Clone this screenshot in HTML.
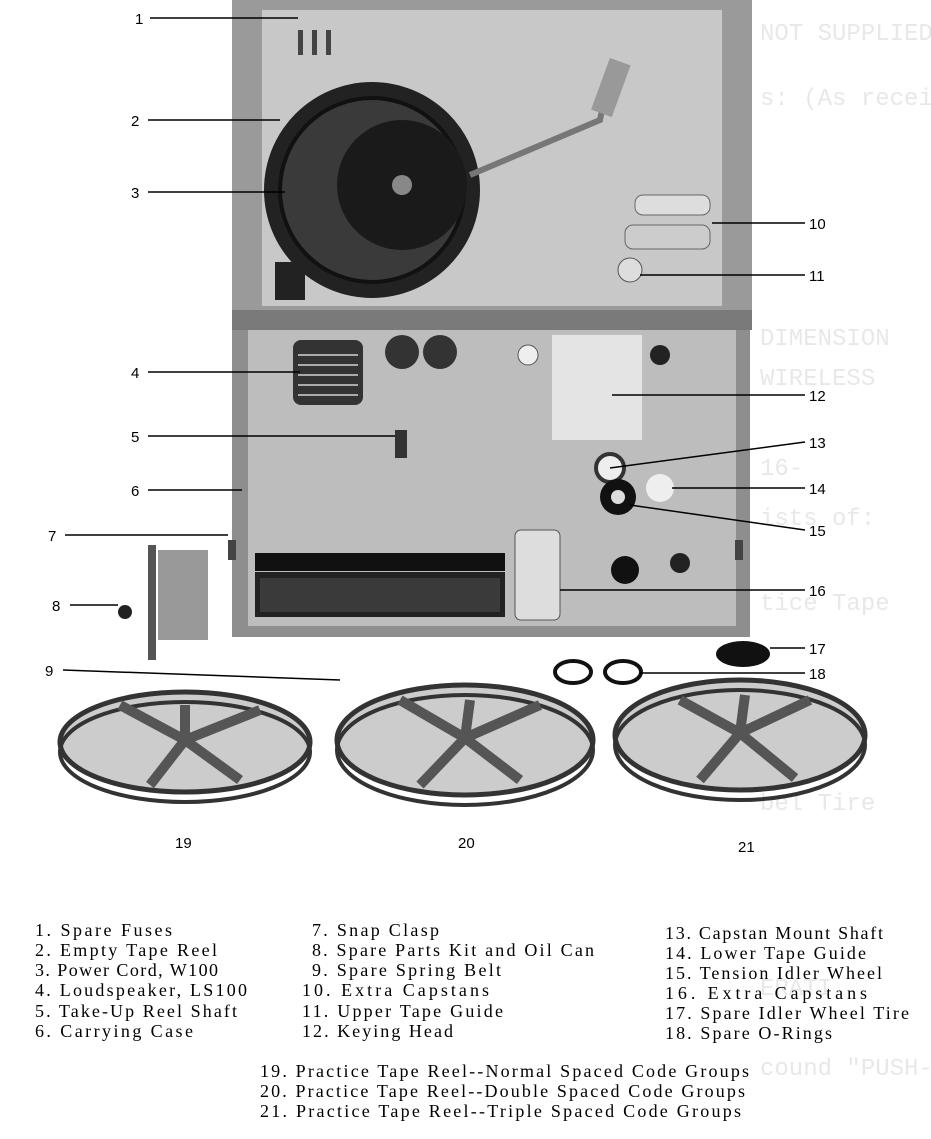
<!DOCTYPE html>
<html><head><meta charset="utf-8"><style>
html,body{margin:0;padding:0;background:#fff;}
svg{display:block}
</style></head><body>
<svg width="931" height="1139" viewBox="0 0 931 1139" xmlns="http://www.w3.org/2000/svg">
<rect width="931" height="1139" fill="#fff"/>
<g font-family="Liberation Mono, monospace" font-size="24" fill="#e8e8e8">
<text x="760" y="40">NOT SUPPLIED</text>
<text x="760" y="105">s: (As received)</text>
<text x="760" y="345">DIMENSION</text>
<text x="760" y="385">WIRELESS</text>
<text x="760" y="475">16-</text>
<text x="760" y="525">ists of:</text>
<text x="760" y="610">tice Tape</text>
<text x="760" y="810">bel Tire</text>
<text x="760" y="995">ERATI</text>
<text x="760" y="1075">cound "PUSH-</text>
</g>
<rect x="232" y="0" width="520" height="318" fill="#9a9a9a"/>
<rect x="262" y="10" width="460" height="296" fill="#c8c8c8"/>
<rect x="232" y="312" width="518" height="325" fill="#8e8e8e"/>
<rect x="248" y="330" width="488" height="296" fill="#bdbdbd"/>
<rect x="232" y="310" width="520" height="20" fill="#7a7a7a"/>
<rect x="298" y="30" width="5" height="25" fill="#444"/>
<rect x="312" y="30" width="5" height="25" fill="#444"/>
<rect x="326" y="30" width="5" height="25" fill="#444"/>
<circle cx="372" cy="190" r="108" fill="#222"/>
<circle cx="372" cy="190" r="92" fill="#3a3a3a" stroke="#111" stroke-width="4"/>
<circle cx="402" cy="185" r="65" fill="#1a1a1a"/>
<circle cx="402" cy="185" r="10" fill="#888"/>
<path d="M610 70 L600 120 L470 175" stroke="#777" stroke-width="6" fill="none"/>
<rect x="600" y="60" width="22" height="55" fill="#999" transform="rotate(20 611 87)"/>
<rect x="635" y="195" width="75" height="20" rx="8" fill="#ddd" stroke="#666"/>
<rect x="625" y="225" width="85" height="24" rx="8" fill="#ccc" stroke="#666"/>
<circle cx="630" cy="270" r="12" fill="#ddd" stroke="#555"/>
<rect x="275" y="262" width="30" height="38" fill="#222"/>
<rect x="293" y="340" width="70" height="65" rx="8" fill="#333"/>
<g stroke="#aaa" stroke-width="2"><line x1="298" y1="355" x2="358" y2="355"/><line x1="298" y1="365" x2="358" y2="365"/><line x1="298" y1="375" x2="358" y2="375"/><line x1="298" y1="385" x2="358" y2="385"/><line x1="298" y1="395" x2="358" y2="395"/></g>
<circle cx="402" cy="352" r="17" fill="#333"/><circle cx="440" cy="352" r="17" fill="#333"/>
<circle cx="528" cy="355" r="10" fill="#eee" stroke="#555"/>
<rect x="552" y="335" width="90" height="105" fill="#e4e4e4"/>
<circle cx="660" cy="355" r="10" fill="#222"/>
<rect x="395" y="430" width="12" height="28" fill="#333"/>
<circle cx="610" cy="468" r="14" fill="#eee" stroke="#333" stroke-width="4"/>
<circle cx="660" cy="488" r="14" fill="#eee"/>
<circle cx="618" cy="497" r="18" fill="#111"/><circle cx="618" cy="497" r="7" fill="#ddd"/>
<circle cx="625" cy="570" r="14" fill="#111"/><circle cx="680" cy="563" r="10" fill="#222"/>
<rect x="515" y="530" width="45" height="90" rx="6" fill="#ddd" stroke="#555"/>
<rect x="255" y="572" width="250" height="45" fill="#222"/>
<rect x="260" y="578" width="240" height="34" fill="#3a3a3a"/>
<rect x="255" y="553" width="250" height="18" fill="#111"/>
<rect x="228" y="540" width="8" height="20" fill="#444"/>
<rect x="735" y="540" width="8" height="20" fill="#444"/>
<rect x="148" y="545" width="8" height="115" fill="#555"/>
<rect x="158" y="550" width="50" height="90" fill="#999"/>
<circle cx="125" cy="612" r="7" fill="#222"/>
<ellipse cx="743" cy="654" rx="27" ry="13" fill="#111"/>
<ellipse cx="573" cy="672" rx="18" ry="11" fill="none" stroke="#111" stroke-width="4"/>
<ellipse cx="623" cy="672" rx="18" ry="11" fill="none" stroke="#111" stroke-width="4"/>
<g fill="none" stroke="#333">
<ellipse cx="185" cy="742" rx="125" ry="50" stroke-width="5" fill="#ccc"/>
<ellipse cx="185" cy="752" rx="125" ry="50" stroke-width="4"/>
<ellipse cx="465" cy="740" rx="128" ry="55" stroke-width="5" fill="#ccc"/>
<ellipse cx="465" cy="750" rx="128" ry="55" stroke-width="4"/>
<ellipse cx="740" cy="735" rx="125" ry="55" stroke-width="5" fill="#ccc"/>
<ellipse cx="740" cy="745" rx="125" ry="55" stroke-width="4"/>
</g>
<g stroke="#555" stroke-width="10">
<path d="M185 740 L120 705 M185 740 L260 710 M185 740 L150 785 M185 740 L240 780 M185 740 L185 705"/>
<path d="M465 738 L400 700 M465 738 L540 705 M465 738 L420 785 M465 738 L520 780 M465 738 L470 700"/>
<path d="M740 733 L680 700 M740 733 L810 700 M740 733 L700 780 M740 733 L795 778 M740 733 L745 695"/>
</g>
<g stroke="#000" stroke-width="1.5">
<line x1="150" y1="18" x2="298" y2="18"/>
<line x1="148" y1="120" x2="280" y2="120"/>
<line x1="148" y1="192" x2="285" y2="192"/>
<line x1="148" y1="372" x2="300" y2="372"/>
<line x1="148" y1="436" x2="395" y2="436"/>
<line x1="148" y1="490" x2="242" y2="490"/>
<line x1="65" y1="535" x2="228" y2="535"/>
<line x1="70" y1="605" x2="118" y2="605"/>
<line x1="63" y1="670" x2="340" y2="680"/>
<line x1="712" y1="223" x2="805" y2="223"/>
<line x1="640" y1="275" x2="805" y2="275"/>
<line x1="612" y1="395" x2="805" y2="395"/>
<line x1="610" y1="468" x2="805" y2="442"/>
<line x1="672" y1="488" x2="805" y2="488"/>
<line x1="630" y1="505" x2="805" y2="530"/>
<line x1="560" y1="590" x2="805" y2="590"/>
<line x1="770" y1="648" x2="805" y2="648"/>
<line x1="640" y1="673" x2="805" y2="673"/>
</g>
<g font-family="Liberation Sans, sans-serif" font-size="15" fill="#000">
<text x="135" y="24">1</text><text x="131" y="126">2</text><text x="131" y="198">3</text>
<text x="131" y="378">4</text><text x="131" y="442">5</text><text x="131" y="496">6</text>
<text x="48" y="541">7</text><text x="52" y="611">8</text><text x="45" y="676">9</text>
<text x="809" y="229">10</text><text x="809" y="281">11</text><text x="809" y="401">12</text>
<text x="809" y="448">13</text><text x="809" y="494">14</text><text x="809" y="536">15</text>
<text x="809" y="596">16</text><text x="809" y="654">17</text><text x="809" y="679">18</text>
<text x="175" y="848">19</text><text x="458" y="848">20</text><text x="738" y="852">21</text>
</g>
<g font-family="Liberation Serif, serif" font-size="18" fill="#000">
<text x="35" y="936" textLength="137" lengthAdjust="spacing">1. Spare Fuses</text>
<text x="35" y="956" textLength="182" lengthAdjust="spacing">2. Empty Tape Reel</text>
<text x="35" y="976" textLength="183" lengthAdjust="spacing">3. Power Cord, W100</text>
<text x="35" y="996" textLength="212" lengthAdjust="spacing">4. Loudspeaker, LS100</text>
<text x="35" y="1017" textLength="202" lengthAdjust="spacing">5. Take-Up Reel Shaft</text>
<text x="35" y="1037" textLength="158" lengthAdjust="spacing">6. Carrying Case</text>
<text x="312" y="936" textLength="127" lengthAdjust="spacing">7. Snap Clasp</text>
<text x="312" y="956" textLength="282" lengthAdjust="spacing">8. Spare Parts Kit and Oil Can</text>
<text x="312" y="976" textLength="189" lengthAdjust="spacing">9. Spare Spring Belt</text>
<text x="302" y="996" textLength="187" lengthAdjust="spacing">10. Extra Capstans</text>
<text x="302" y="1017" textLength="201" lengthAdjust="spacing">11. Upper Tape Guide</text>
<text x="302" y="1037" textLength="151" lengthAdjust="spacing">12. Keying Head</text>
<text x="665" y="939" textLength="218" lengthAdjust="spacing">13. Capstan Mount Shaft</text>
<text x="665" y="959" textLength="201" lengthAdjust="spacing">14. Lower Tape Guide</text>
<text x="665" y="979" textLength="217" lengthAdjust="spacing">15. Tension Idler Wheel</text>
<text x="665" y="999" textLength="202" lengthAdjust="spacing">16. Extra Capstans</text>
<text x="665" y="1019" textLength="244" lengthAdjust="spacing">17. Spare Idler Wheel Tire</text>
<text x="665" y="1039" textLength="167" lengthAdjust="spacing">18. Spare O-Rings</text>
<text x="260" y="1077" textLength="489" lengthAdjust="spacing">19. Practice Tape Reel--Normal Spaced Code Groups</text>
<text x="260" y="1097" textLength="485" lengthAdjust="spacing">20. Practice Tape Reel--Double Spaced Code Groups</text>
<text x="260" y="1117" textLength="481" lengthAdjust="spacing">21. Practice Tape Reel--Triple Spaced Code Groups</text>
</g>
</svg>
</body></html>
